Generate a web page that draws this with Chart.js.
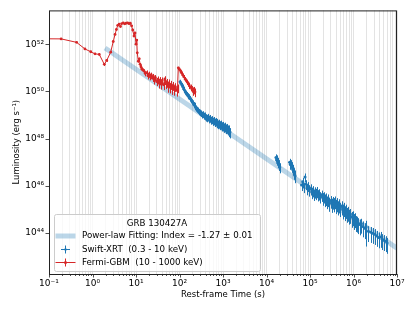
<!DOCTYPE html>
<html>
<head>
<meta charset="utf-8">
<script src="https://cdn.jsdelivr.net/npm/chart.js@4.4.0/dist/chart.umd.min.js"></script>
<style>
html, body { margin: 0; padding: 0; background: #fff; }
canvas { display: block; }
</style>
</head>
<body>
<canvas id="grafico_lc" width="415" height="312"></canvas>
<script>
// Fermi-GBM (10 - 1000 keV): rest-frame time (s), luminosity (erg/s), relative error
const gbmTime = [0.06, 0.19, 0.43, 0.67, 0.91, 1.14, 1.43, 1.87, 2.12, 2.62, 3.0, 3.3, 3.55, 3.8, 4.1, 4.4, 4.7, 5.1, 5.5, 5.9,
  6.4, 6.9, 7.4, 7.9, 8.4, 9.0, 9.5, 10.0, 10.4, 10.7, 11.3, 11.9, 12.4, 13.0, 13.5, 14.3, 15.3, 16.2, 17.6, 18.8,
  20, 21, 22.5, 24, 25, 26.5, 28, 30, 32, 34, 35.6, 38, 40, 43, 46, 48, 51, 54, 57, 60.5,
  64, 68, 72, 76, 80, 86, 90, 94, 98, 103, 108, 112, 118, 125, 134, 142, 150, 159, 168, 180,
  191, 200, 207, 215, 227]
const gbmLum = [1.7e52, 1.68e52, 1.2e52, 6.3e51, 4.8e51, 3.9e51, 3.7e51, 1.4e51, 2.05e51, 4.6e51, 1.3e52, 2.6e52, 4.2e52, 6.3e52, 7.1e52, 5.6e52, 7.5e52, 7.9e52, 7.3e52, 7.7e52,
  8.0e52, 7.4e52, 7.7e52, 6.0e52, 4.0e52, 2.2e52, 3.0e52, 1.0e52, 1.5e52, 4.3e51, 1.9e51, 2.4e51, 1.4e51, 1.1e51, 8.9e50, 8.0e50, 7.3e50, 5.8e50, 6.2e50, 4.6e50,
  5.5e50, 4.2e50, 5.0e50, 3.6e50, 4.4e50, 3.0e50, 3.8e50, 2.6e50, 3.3e50, 2.2e50, 3.0e50, 2.0e50, 2.9e50, 1.9e50, 3.4e50, 2.1e50, 2.5e50, 1.6e50, 2.3e50, 1.5e50,
  2.0e50, 1.3e50, 1.8e50, 1.2e50, 1.6e50, 1.1e50, 1.4e50, 1.0e51, 9.0e50, 8.0e50, 6.8e50, 6.0e50, 5.0e50, 4.2e50, 3.4e50, 2.9e50, 2.5e50, 2.1e50, 1.8e50, 1.5e50,
  1.3e50, 1.1e50, 1.0e50, 1.15e50, 9.5e49]
const gbmErr = [0.05, 0.05, 0.06, 0.08, 0.08, 0.1, 0.1, 0.15, 0.12, 0.08, 0.06, 0.05, 0.05, 0.04, 0.04, 0.04, 0.04, 0.04, 0.04, 0.04,
  0.04, 0.04, 0.04, 0.05, 0.05, 0.06, 0.06, 0.08, 0.08, 0.1, 0.12, 0.12, 0.15, 0.15, 0.18, 0.18, 0.2, 0.25, 0.25, 0.3,
  0.25, 0.3, 0.25, 0.3, 0.25, 0.35, 0.3, 0.35, 0.3, 0.4, 0.35, 0.4, 0.35, 0.4, 0.3, 0.4, 0.35, 0.45, 0.4, 0.45,
  0.4, 0.45, 0.4, 0.45, 0.4, 0.45, 0.4, 0.1, 0.1, 0.12, 0.12, 0.15, 0.15, 0.18, 0.2, 0.22, 0.25, 0.25, 0.3, 0.3,
  0.3, 0.35, 0.35, 0.35, 0.4]

// Swift-XRT (0.3 - 10 keV)
const xrtTime = [103, 108, 113, 118, 124, 130, 136, 142, 148, 155, 162, 170, 178, 186, 195, 204, 213, 223, 233, 244,
  256, 268, 281, 295, 310, 325, 341, 358, 376, 395, 415, 436, 458, 481, 505, 530, 557, 585, 614, 645,
  677, 711, 747, 784, 823, 864, 907, 952, 1000, 1050, 1100, 1160, 1220, 1280, 1340, 1400, 1450,
  16500, 17000, 17500, 18000, 18500, 19000, 19500, 20000,
  34000, 35200, 36400, 37600, 38800, 40000, 41500, 43000, 44500, 45500,
  6.4e4, 6.8e4, 7.2e4, 7.7e4, 8.1e4, 8.6e4, 9.1e4, 9.7e4, 1.03e5, 1.09e5, 1.16e5, 1.23e5, 1.30e5, 1.38e5, 1.46e5, 1.55e5,
  1.64e5, 1.74e5, 1.85e5, 1.96e5, 2.08e5, 2.21e5, 2.34e5, 2.48e5, 2.63e5, 2.79e5, 2.96e5, 3.14e5, 3.33e5, 3.53e5, 3.74e5, 3.97e5,
  4.21e5, 4.46e5, 4.73e5, 5.02e5, 5.32e5, 5.64e5, 5.98e5, 6.34e5, 6.72e5, 7.13e5, 7.56e5, 8.0e5, 8.5e5, 9.0e5, 9.6e5, 1.02e6,
  1.08e6, 1.15e6, 1.22e6, 1.30e6, 1.40e6, 1.52e6, 1.65e6, 1.80e6, 1.95e6, 2.2e6, 2.5e6, 2.8e6, 3.1e6, 3.4e6, 3.8e6, 4.2e6,
  4.6e6, 5.0e6, 5.5e6, 5.9e6]
const xrtLum = [2.6e50, 2.2e50, 1.9e50, 1.6e50, 1.3e50, 1.15e50, 9.5e49, 8.8e49, 7.6e49, 6.8e49, 6.1e49, 5.2e49, 5.0e49, 4.3e49, 3.7e49, 3.3e49, 2.8e49, 2.6e49, 2.2e49, 1.95e49,
  1.75e49, 1.6e49, 1.4e49, 1.3e49, 1.2e49, 1.05e49, 1.1e49, 9.5e48, 8.8e48, 9.6e48, 8.0e48, 7.6e48, 8.3e48, 6.9e48, 7.4e48, 6.2e48, 6.6e48, 5.6e48, 6.0e48, 5.1e48,
  5.4e48, 4.6e48, 4.9e48, 4.2e48, 4.5e48, 3.9e48, 4.1e48, 3.5e48, 3.6e48, 3.1e48, 3.3e48, 2.8e48, 2.9e48, 2.5e48, 2.1e48, 2.5e48, 1.9e48,
  1.6e47, 1.25e47, 1.4e47, 9.5e46, 1.1e47, 7.8e46, 8.5e46, 6.2e46,
  1.0e47, 8.0e46, 8.8e46, 6.5e46, 7.0e46, 5.0e46, 5.4e46, 3.6e46, 3.0e46, 2.6e46,
  1.1e46, 1.5e46, 9.0e45, 2.4e46, 1.2e46, 8.0e45, 1.0e46, 7.0e45, 7.8e45, 5.5e45, 6.5e45, 4.6e45, 5.8e45, 5.0e45, 6.0e45, 4.4e45,
  4.8e45, 3.6e45, 4.2e45, 3.2e45, 3.6e45, 2.8e45, 3.1e45, 2.3e45, 2.8e45, 2.0e45, 2.4e45, 1.8e45, 2.2e45, 1.9e45, 2.3e45, 1.6e45,
  1.9e45, 1.4e45, 1.7e45, 1.2e45, 1.4e45, 1.0e45, 1.2e45, 8.5e44, 1.0e45, 7.2e44, 8.0e44, 6.0e44, 6.5e44, 4.8e44, 5.2e44, 3.9e44,
  4.3e44, 3.2e44, 3.0e44, 2.6e44, 2.3e44, 2.5e44, 1.9e44, 1.6e44, 1.8e44, 1.2e44, 1.1e44, 1.0e44, 9.0e43, 7.5e43, 6.5e43, 6.8e43,
  5.5e43, 5.0e43, 4.5e43, 3.8e43]
const xrtErr = [0.2, 0.2, 0.2, 0.22, 0.22, 0.22, 0.22, 0.24, 0.24, 0.24, 0.25, 0.25, 0.25, 0.26, 0.26, 0.27, 0.27, 0.28, 0.28, 0.29,
  0.29, 0.3, 0.3, 0.31, 0.31, 0.32, 0.32, 0.33, 0.33, 0.34, 0.34, 0.35, 0.35, 0.36, 0.36, 0.37, 0.37, 0.38, 0.38, 0.39,
  0.39, 0.4, 0.4, 0.4, 0.41, 0.41, 0.42, 0.42, 0.43, 0.43, 0.44, 0.44, 0.45, 0.45, 0.45, 0.46, 0.46,
  0.35, 0.4, 0.4, 0.4, 0.4, 0.45, 0.45, 0.45,
  0.4, 0.4, 0.4, 0.45, 0.45, 0.45, 0.45, 0.5, 0.5, 0.5,
  0.45, 0.45, 0.45, 0.4, 0.45, 0.5, 0.45, 0.5, 0.5, 0.5, 0.5, 0.5, 0.5, 0.5, 0.5, 0.5,
  0.5, 0.5, 0.5, 0.55, 0.5, 0.55, 0.55, 0.55, 0.55, 0.6, 0.55, 0.6, 0.55, 0.6, 0.55, 0.6,
  0.6, 0.6, 0.6, 0.6, 0.6, 0.62, 0.6, 0.62, 0.6, 0.62, 0.62, 0.62, 0.62, 0.65, 0.62, 0.65,
  0.62, 0.65, 0.65, 0.65, 0.65, 0.62, 0.65, 0.65, 0.85, 0.65, 0.65, 0.65, 0.65, 0.65, 0.65, 0.65,
  0.65, 0.65, 0.65, 0.65]

// power-law fit, index -1.27
const fitTime = [1.94, 1e7]
const fitLum = [6.9e51, 2.3e43]

const xMajorTicks = [0.1, 1, 10, 100, 1e3, 1e4, 1e5, 1e6, 1e7]
const xMinorSubs = [2, 3, 4, 5, 6, 7, 8, 9]
const yMajorTicks = [1e44, 1e46, 1e48, 1e50, 1e52]

const legendTitle = 'GRB 130427A'
const fitLabel = 'Power-law Fitting: Index = -1.27 \u00b1 0.01'
const xrtLabel = 'Swift-XRT  (0.3 - 10 keV)'
const gbmLabel = 'Fermi-GBM  (10 - 1000 keV)'

const blue = '#1f77b4'
const red = '#d62728'
const fitColor = 'rgba(31,119,180,0.3)'
const FONT = 'DejaVu Sans'

const sup = {'-': '\u207b', '0': '\u2070', '1': '\u00b9', '2': '\u00b2', '3': '\u00b3', '4': '\u2074', '5': '\u2075', '6': '\u2076', '7': '\u2077', '8': '\u2078', '9': '\u2079'}
const isDecade = v => Math.abs(Math.log10(v) - Math.round(Math.log10(v))) < 1e-9
const pow10 = v => '10' + String(Math.round(Math.log10(v))).split('').map(c => sup[c]).join('')

const xAllTicks = []
xMajorTicks.forEach((m, i) => {
  xAllTicks.push(m)
  if (i < xMajorTicks.length - 1) xMinorSubs.forEach(k => xAllTicks.push(k * m))
})

const pts = (xs, ys) => xs.map((x, i) => ({x: x, y: ys[i]}))

// vertical error bars, drawn just under each dataset
const errorBars = {
  id: 'errorBars',
  beforeDatasetDraw(chart, args) {
    const ds = chart.data.datasets[args.index]
    if (!ds.errFrac) return
    const {ctx, chartArea: a, scales: {x, y}} = chart
    ctx.save()
    ctx.beginPath()
    ctx.rect(a.left, a.top, a.right - a.left, a.bottom - a.top)
    ctx.clip()
    ctx.strokeStyle = ds.borderColor
    ctx.lineWidth = 1
    ctx.beginPath()
    ds.data.forEach((p, i) => {
      const px = Math.round(x.getPixelForValue(p.x)) + 0.5
      ctx.moveTo(px, y.getPixelForValue(p.y * (1 + ds.errFrac[i])))
      ctx.lineTo(px, y.getPixelForValue(p.y * (1 - ds.errFrac[i])))
    })
    ctx.stroke()
    ctx.restore()
  }
}

const frameAndLegend = {
  id: 'frameAndLegend',
  afterDraw(chart) {
    const {ctx, chartArea: a, scales: {x, y}} = chart
    ctx.save()
    // tick marks
    ctx.strokeStyle = '#222'
    ctx.lineWidth = 0.8
    ctx.beginPath()
    xAllTicks.forEach(v => {
      const px = Math.round(x.getPixelForValue(v)) + 0.5
      const len = isDecade(v) ? 3.5 : 2
      ctx.moveTo(px, a.bottom)
      ctx.lineTo(px, a.bottom + len)
    })
    yMajorTicks.forEach(v => {
      const py = Math.round(y.getPixelForValue(v)) + 0.5
      ctx.moveTo(a.left, py)
      ctx.lineTo(a.left - 3.5, py)
    })
    ctx.stroke()
    // frame
    ctx.strokeStyle = '#222'
    ctx.lineWidth = 1
    ctx.strokeRect(a.left + 0.5, a.top + 0.5, a.right - a.left - 1, a.bottom - a.top)

    // legend
    const bx = a.left + 5, by = a.bottom - 60, bw = 206, bh = 57
    ctx.beginPath()
    ctx.roundRect(bx + 0.5, by + 0.5, bw, bh, 2)
    ctx.fillStyle = 'rgba(255,255,255,0.8)'
    ctx.fill()
    ctx.strokeStyle = '#cccccc'
    ctx.stroke()

    ctx.font = '8.7px "' + FONT + '"'
    ctx.fillStyle = '#000'
    ctx.textBaseline = 'middle'
    ctx.textAlign = 'center'
    ctx.fillText(legendTitle, bx + bw / 2, by + 10)
    ctx.textAlign = 'left'
    const hx0 = bx + 1.5, hx1 = bx + 21.5, hc = bx + 11.5, tx = bx + 28
    const r1 = by + 22, r2 = by + 35.5, r3 = by + 48.5
    // fit handle
    ctx.strokeStyle = fitColor
    ctx.lineWidth = 5
    ctx.beginPath(); ctx.moveTo(hx0, r1); ctx.lineTo(hx1, r1); ctx.stroke()
    ctx.fillText(fitLabel, tx, r1)
    // xrt handle
    ctx.strokeStyle = blue
    ctx.lineWidth = 1
    ctx.beginPath()
    ctx.moveTo(hc - 4.5, r2); ctx.lineTo(hc + 4.5, r2)
    ctx.moveTo(hc, r2 - 4); ctx.lineTo(hc, r2 + 4)
    ctx.stroke()
    ctx.fillStyle = blue
    ctx.beginPath(); ctx.arc(hc, r2, 1.2, 0, Math.PI * 2); ctx.fill()
    ctx.fillStyle = '#000'
    ctx.fillText(xrtLabel, tx, r2)
    // gbm handle
    ctx.strokeStyle = red
    ctx.beginPath()
    ctx.moveTo(hx0, r3); ctx.lineTo(hx1, r3)
    ctx.moveTo(hc, r3 - 4); ctx.lineTo(hc, r3 + 4)
    ctx.stroke()
    ctx.fillStyle = red
    ctx.beginPath(); ctx.arc(hc, r3, 1.5, 0, Math.PI * 2); ctx.fill()
    ctx.fillStyle = '#000'
    ctx.fillText(gbmLabel, tx, r3)
    ctx.restore()
  }
}

const ctx = document.getElementById('grafico_lc').getContext('2d')

const chartGraph = new Chart(ctx, {
  type: 'scatter',
  data: {
    datasets: [{
      label: gbmLabel,
      data: pts(gbmTime, gbmLum),
      errFrac: gbmErr,
      showLine: true,
      borderColor: red,
      borderWidth: 1,
      backgroundColor: red,
      pointRadius: 1.4,
      pointBorderWidth: 0,
      order: 0
    }, {
      label: xrtLabel,
      data: pts(xrtTime, xrtLum),
      errFrac: xrtErr,
      showLine: false,
      borderColor: blue,
      backgroundColor: blue,
      pointRadius: 1.5,
      pointBorderWidth: 0,
      order: 1
    }, {
      label: fitLabel,
      data: pts(fitTime, fitLum),
      showLine: true,
      borderColor: fitColor,
      borderWidth: 5,
      borderCapStyle: 'butt',
      pointRadius: 0,
      order: 2
    }]
  },
  options: {
    responsive: false,
    animation: false,
    events: [],
    layout: {padding: {top: 9, right: 18, left: 0, bottom: 0}},
    plugins: {legend: {display: false}, tooltip: {enabled: false}},
    scales: {
      x: {
        type: 'logarithmic',
        min: 0.1,
        max: 1e7,
        afterBuildTicks: s => { s.ticks = xAllTicks.map(v => ({value: v})) },
        afterFit: s => { s.height = 38 },
        ticks: {
          autoSkip: false, maxRotation: 0, minRotation: 0, padding: 4,
          color: '#000', font: {family: FONT, size: 9},
          callback: v => isDecade(v) ? pow10(v) : ''
        },
        grid: {color: '#dcdcdc', lineWidth: 0.8, drawTicks: false},
        border: {display: false},
        title: {display: true, text: 'Rest-frame Time (s)', color: '#000', font: {family: FONT, size: 8.5}, padding: {top: 0, bottom: 12}}
      },
      y: {
        type: 'logarithmic',
        min: 1.86e42,
        max: 2.7e53,
        afterBuildTicks: s => { s.ticks = yMajorTicks.map(v => ({value: v})) },
        afterFit: s => { s.width = 49 },
        ticks: {
          autoSkip: false, padding: 5,
          color: '#000', font: {family: FONT, size: 9},
          callback: v => pow10(v)
        },
        grid: {display: false, drawTicks: false},
        border: {display: false},
        title: {display: true, text: 'Luminosity (erg s\u207b\u00b9)', color: '#000', font: {family: FONT, size: 8.5}, padding: {top: 12, bottom: 0}}
      }
    }
  },
  plugins: [errorBars, frameAndLegend]
})
</script>
</body>
</html>
